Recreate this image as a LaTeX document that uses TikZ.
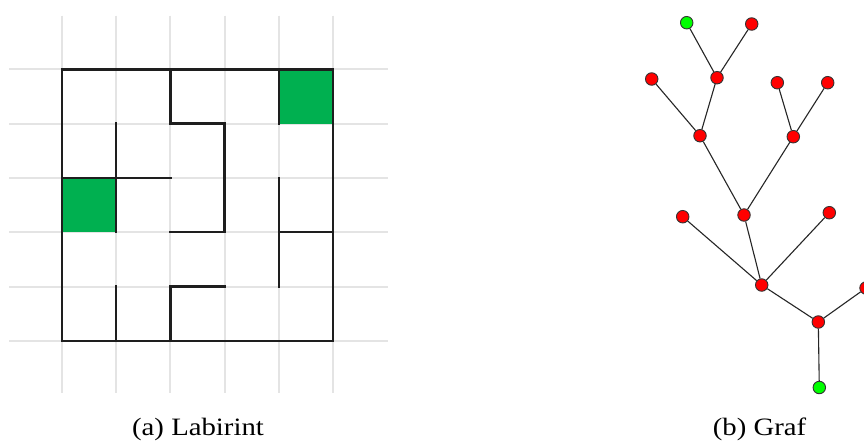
\documentclass[tikz,border=0pt]{standalone}
\usepackage{fontspec}
\setmainfont{Liberation Serif}
\definecolor{mazegreen}{RGB}{0,176,80}
\definecolor{gridgray}{RGB}{228,228,228}
\definecolor{wallcol}{RGB}{30,30,30}
\definecolor{nodered}{RGB}{255,0,0}
\definecolor{nodegreen}{RGB}{0,255,0}
\begin{document}
\begin{tikzpicture}[x=1pt,y=-1pt,
  gridline/.style={gridgray,line width=2pt},
  wall/.style={wallcol,line width=2.4pt,line cap=rect},
  vtx/.style={circle,draw=black!80,line width=0.9pt,minimum size=12.5pt,inner sep=0pt},
  rv/.style={vtx,fill=nodered},
  gv/.style={vtx,fill=nodegreen},
  edge/.style={black!85,line width=1.1pt},
  captext/.style={anchor=base,inner sep=0pt,font=\fontsize{25}{28}\selectfont}]
\clip (0,0) rectangle (864,440);
\fill[white] (0,0) rectangle (864,440);
% maze
\begin{scope}[xshift=61.7pt,yshift=-69.3pt,x=54.3pt,y=-54.3pt]
  \foreach \j in {0,...,5} \draw[gridline] (-0.97,\j) -- (6.01,\j);
  \foreach \i in {0,...,5} \draw[gridline] (\i,-0.99) -- (\i,5.96);
  \fill[mazegreen] (0,2) rectangle (1,3);
  \fill[mazegreen] (4,0) rectangle (5,1);
  \draw[wall] (0,0) rectangle (5,5);
  \draw[wall] (2,0) -- (2,1) -- (3,1) -- (3,3) -- (2,3);
  \draw[wall] (1,1) -- (1,3);
  \draw[wall] (0,2) -- (2,2);
  \draw[wall] (4,0) -- (4,1);
  \draw[wall] (4,2) -- (4,4);
  \draw[wall] (4,3) -- (5,3);
  \draw[wall] (1,4) -- (1,5);
  \draw[wall] (2,5) -- (2,4) -- (3,4);
\end{scope}
% graph
\node[gv] (g1) at (686.7,22.7) {};
\node[rv] (r1) at (751.7,24) {};
\node[rv] (A) at (717,77.7) {};
\node[rv] (l1) at (651.7,79) {};
\node[rv] (B) at (700,135.7) {};
\node[rv] (l2) at (777.3,82.7) {};
\node[rv] (l3) at (827.7,82.7) {};
\node[rv] (C) at (793.3,136.7) {};
\node[rv] (D) at (744,215) {};
\node[rv] (l4) at (682.7,216.7) {};
\node[rv] (l5) at (829.3,212.7) {};
\node[rv] (E) at (761.7,285) {};
\node[rv] (F) at (818.3,322) {};
\node[rv] (l6) at (866,288) {};
\node[gv] (g2) at (819.3,387.5) {};
\draw[edge] (g1) -- (A);
\draw[edge] (r1) -- (A);
\draw[edge] (A) -- (B);
\draw[edge] (l1) -- (B);
\draw[edge] (B) -- (D);
\draw[edge] (l2) -- (C);
\draw[edge] (l3) -- (C);
\draw[edge] (C) -- (D);
\draw[edge] (D) -- (E);
\draw[edge] (l4) -- (E);
\draw[edge] (l5) -- (E);
\draw[edge] (E) -- (F);
\draw[edge] (F) -- (l6);
\draw[edge] (F) -- (g2);
% captions
\node[captext] (capa) at (198,435) {\scalebox{1.15}[1]{(a) Labirint}};
\node[captext] (capb) at (759.5,435) {\scalebox{1.15}[1]{(b) Graf}};
\end{tikzpicture}
\end{document}
